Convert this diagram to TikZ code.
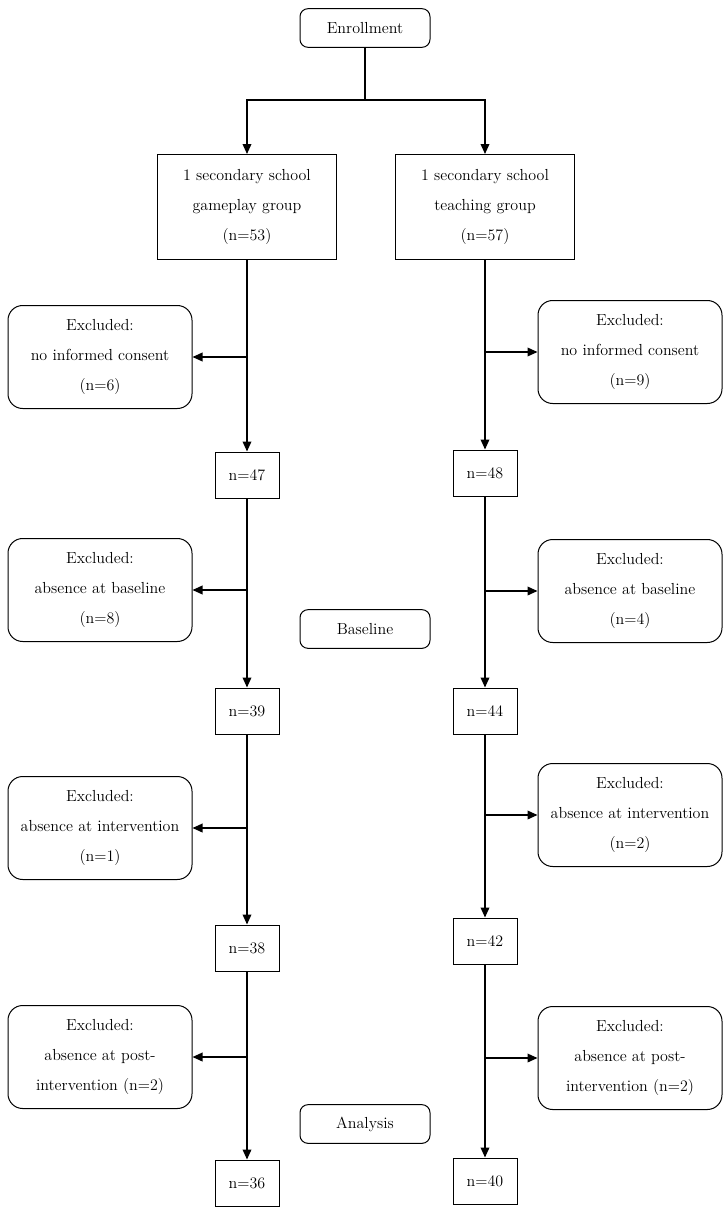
\documentclass[tikz,border=0pt]{standalone}
\usetikzlibrary{arrows.meta}
\begin{document}
\begin{tikzpicture}[x=0.75pt,y=-0.75pt,
  txt/.style={font=\fontsize{12}{22.5}\selectfont,align=center,inner sep=0pt},
  exbox/.style={txt,draw,line width=0.75pt,rounded corners=11pt,minimum width=138pt,minimum height=77.25pt},
  grpbox/.style={txt,draw,line width=0.75pt,minimum width=134.25pt,minimum height=78.75pt},
  nbox/.style={txt,draw,line width=0.75pt,minimum width=48pt,minimum height=34.5pt},
  stagebox/.style={txt,draw,line width=0.75pt,rounded corners=6pt,minimum width=97.5pt,minimum height=29pt},
  conn/.style={line width=1.1pt},
  arr/.style={conn,-{Triangle[length=7.5pt,width=6.5pt]}}]
\useasboundingbox (0,0) rectangle (727,1214);
% stage boxes
\node[stagebox] (enr) at (365,28) {Enrollment};
\node[stagebox] (base) at (365,629) {Baseline};
\node[stagebox] (ana) at (365,1124) {Analysis};
% groups
\node[grpbox] (g1) at (247,207) {1 secondary school\\gameplay group\\(n=53)};
\node[grpbox] (g2) at (485,207) {1 secondary school\\teaching group\\(n=57)};
% left column
\node[exbox] (le1) at (100,357) {Excluded:\\no informed consent\\(n=6)};
\node[nbox] (l47) at (247,475) {n=47};
\node[exbox] (le2) at (100,590) {Excluded:\\absence at baseline\\(n=8)};
\node[nbox] (l39) at (247,711) {n=39};
\node[exbox] (le3) at (100,828) {Excluded:\\absence at intervention\\(n=1)};
\node[nbox] (l38) at (247,948) {n=38};
\node[exbox] (le4) at (100,1057) {Excluded:\\absence at post-\\intervention (n=2)};
\node[nbox] (l36) at (247,1183) {n=36};
% right column
\node[exbox] (re1) at (630,352) {Excluded:\\no informed consent\\(n=9)};
\node[nbox] (r48) at (485,473) {n=48};
\node[exbox] (re2) at (630,591) {Excluded:\\absence at baseline\\(n=4)};
\node[nbox] (r44) at (485,711) {n=44};
\node[exbox] (re3) at (630,815) {Excluded:\\absence at intervention\\(n=2)};
\node[nbox] (r42) at (485,941) {n=42};
\node[exbox] (re4) at (630,1058) {Excluded:\\absence at post-\\intervention (n=2)};
\node[nbox] (r40) at (485,1181) {n=40};
% enrollment split
\coordinate (j) at (365,100);
\draw[conn] (enr.south) -- (j);
\draw[arr] (j) -| (g1.north);
\draw[arr] (j) -| (g2.north);
% vertical flow left
\draw[arr] (g1.south) -- (l47.north);
\draw[arr] (l47.south) -- (l39.north);
\draw[arr] (l39.south) -- (l38.north);
\draw[arr] (l38.south) -- (l36.north);
% vertical flow right
\draw[arr] (g2.south) -- (r48.north);
\draw[arr] (r48.south) -- (r44.north);
\draw[arr] (r44.south) -- (r42.north);
\draw[arr] (r42.south) -- (r40.north);
% branches left
\coordinate (lb1) at (247,357);
\coordinate (lb2) at (247,590);
\coordinate (lb3) at (247,828);
\coordinate (lb4) at (247,1057);
\draw[arr] (lb1) -- (le1.east);
\draw[arr] (lb2) -- (le2.east);
\draw[arr] (lb3) -- (le3.east);
\draw[arr] (lb4) -- (le4.east);
% branches right
\coordinate (rb1) at (485,352);
\coordinate (rb2) at (485,591);
\coordinate (rb3) at (485,815);
\coordinate (rb4) at (485,1058);
\draw[arr] (rb1) -- (re1.west);
\draw[arr] (rb2) -- (re2.west);
\draw[arr] (rb3) -- (re3.west);
\draw[arr] (rb4) -- (re4.west);
\end{tikzpicture}
\end{document}
